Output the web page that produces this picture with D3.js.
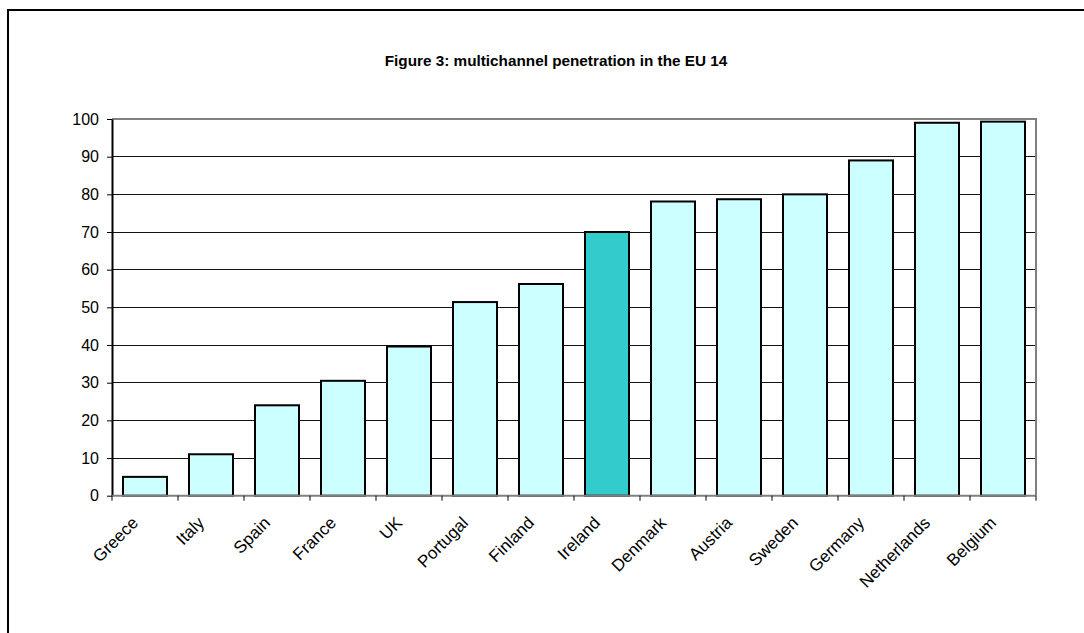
<!DOCTYPE html>
<html>
<head>
<meta charset="utf-8">
<script src="https://cdn.jsdelivr.net/npm/d3@7"></script>
<style>
  html, body { margin: 0; padding: 0; background: #fff; }
  svg { display: block; font-family: "Liberation Sans", Arial, sans-serif; }
</style>
</head>
<body>
<svg id="chart" width="1084" height="633"></svg>
<script>
// Multichannel penetration (%) by country, EU 14
const countries = ["Greece", "Italy", "Spain", "France", "UK", "Portugal", "Finland",
                   "Ireland", "Denmark", "Austria", "Sweden", "Germany", "Netherlands", "Belgium"];
const penetration = [5, 11, 24, 30.5, 39.6, 51.4, 56.2, 70, 78.1, 78.7, 80, 89, 99, 99.3];
const highlighted = ["Ireland"];
const yTicks = [0, 10, 20, 30, 40, 50, 60, 70, 80, 90, 100];
const title = "Figure 3: multichannel penetration in the EU 14";

const svg = d3.select("#chart");
const plot = { left: 112, right: 1036, top: 119, bottom: 495.7 };

// outer frame
svg.append("rect")
  .attr("x", 8).attr("y", 10)
  .attr("width", 1200).attr("height", 800)
  .attr("fill", "none").attr("stroke", "#000").attr("stroke-width", 2);

svg.append("text")
  .attr("x", 556).attr("y", 66)
  .attr("text-anchor", "middle")
  .attr("font-size", 15.3).attr("font-weight", "bold")
  .text(title);

const x = d3.scaleBand().domain(countries)
  .range([plot.left, plot.right]).paddingInner(1 / 3).paddingOuter(1 / 6);
const y = d3.scaleLinear().domain([0, 100]).range([plot.bottom, plot.top]);

// gridlines
svg.append("g").selectAll("line")
  .data(yTicks.filter(t => t > 0 && t < 100)).join("line")
  .attr("x1", plot.left).attr("x2", plot.right)
  .attr("y1", d => y(d)).attr("y2", d => y(d))
  .attr("stroke", "#111").attr("stroke-width", 1)
  .attr("shape-rendering", "crispEdges");

// plot area border (top and right)
svg.append("path")
  .attr("d", `M${plot.left},${y(100)}H${plot.right}V${plot.bottom}`)
  .attr("fill", "none").attr("stroke", "#808080").attr("stroke-width", 2);

// bars
svg.append("g").selectAll("rect")
  .data(countries).join("rect")
  .attr("x", d => x(d))
  .attr("y", (d, i) => y(penetration[i]))
  .attr("width", x.bandwidth())
  .attr("height", (d, i) => y(0) - y(penetration[i]))
  .attr("fill", d => highlighted.includes(d) ? "#33CCCC" : "#CCFFFF")
  .attr("stroke", "#000").attr("stroke-width", 2);

// y axis
const yAxis = svg.append("g")
  .attr("transform", `translate(${plot.left},0)`)
  .call(d3.axisLeft(y).tickValues(yTicks).tickSize(5).tickSizeOuter(0).tickPadding(8));
yAxis.select(".domain").attr("stroke", "#000").attr("stroke-width", 2);
yAxis.selectAll(".tick line").attr("stroke", "#000");
yAxis.selectAll("text").attr("font-size", 16).attr("fill", "#000")
  .attr("font-family", "Liberation Sans, Arial, sans-serif");

// x axis: ticks at category boundaries
const boundaries = countries.map(c => x(c) - x.step() * x.paddingInner() / 2)
  .concat([plot.right]);
const xAxis = svg.append("g");
xAxis.append("line")
  .attr("x1", plot.left).attr("x2", plot.right)
  .attr("y1", plot.bottom).attr("y2", plot.bottom)
  .attr("stroke", "#808080").attr("stroke-width", 2);
xAxis.selectAll("line.tick").data(boundaries).join("line")
  .attr("class", "tick")
  .attr("x1", d => d).attr("x2", d => d)
  .attr("y1", plot.bottom).attr("y2", plot.bottom + 5)
  .attr("stroke", "#000").attr("stroke-width", 1);
xAxis.selectAll("text").data(countries).join("text")
  .attr("transform", d => `translate(${x(d) + x.bandwidth() / 2 - 10},${plot.bottom + 24}) rotate(-45)`)
  .attr("text-anchor", "end")
  .attr("dy", "0.35em")
  .attr("font-size", 17)
  .text(d => d);
</script>
</body>
</html>
